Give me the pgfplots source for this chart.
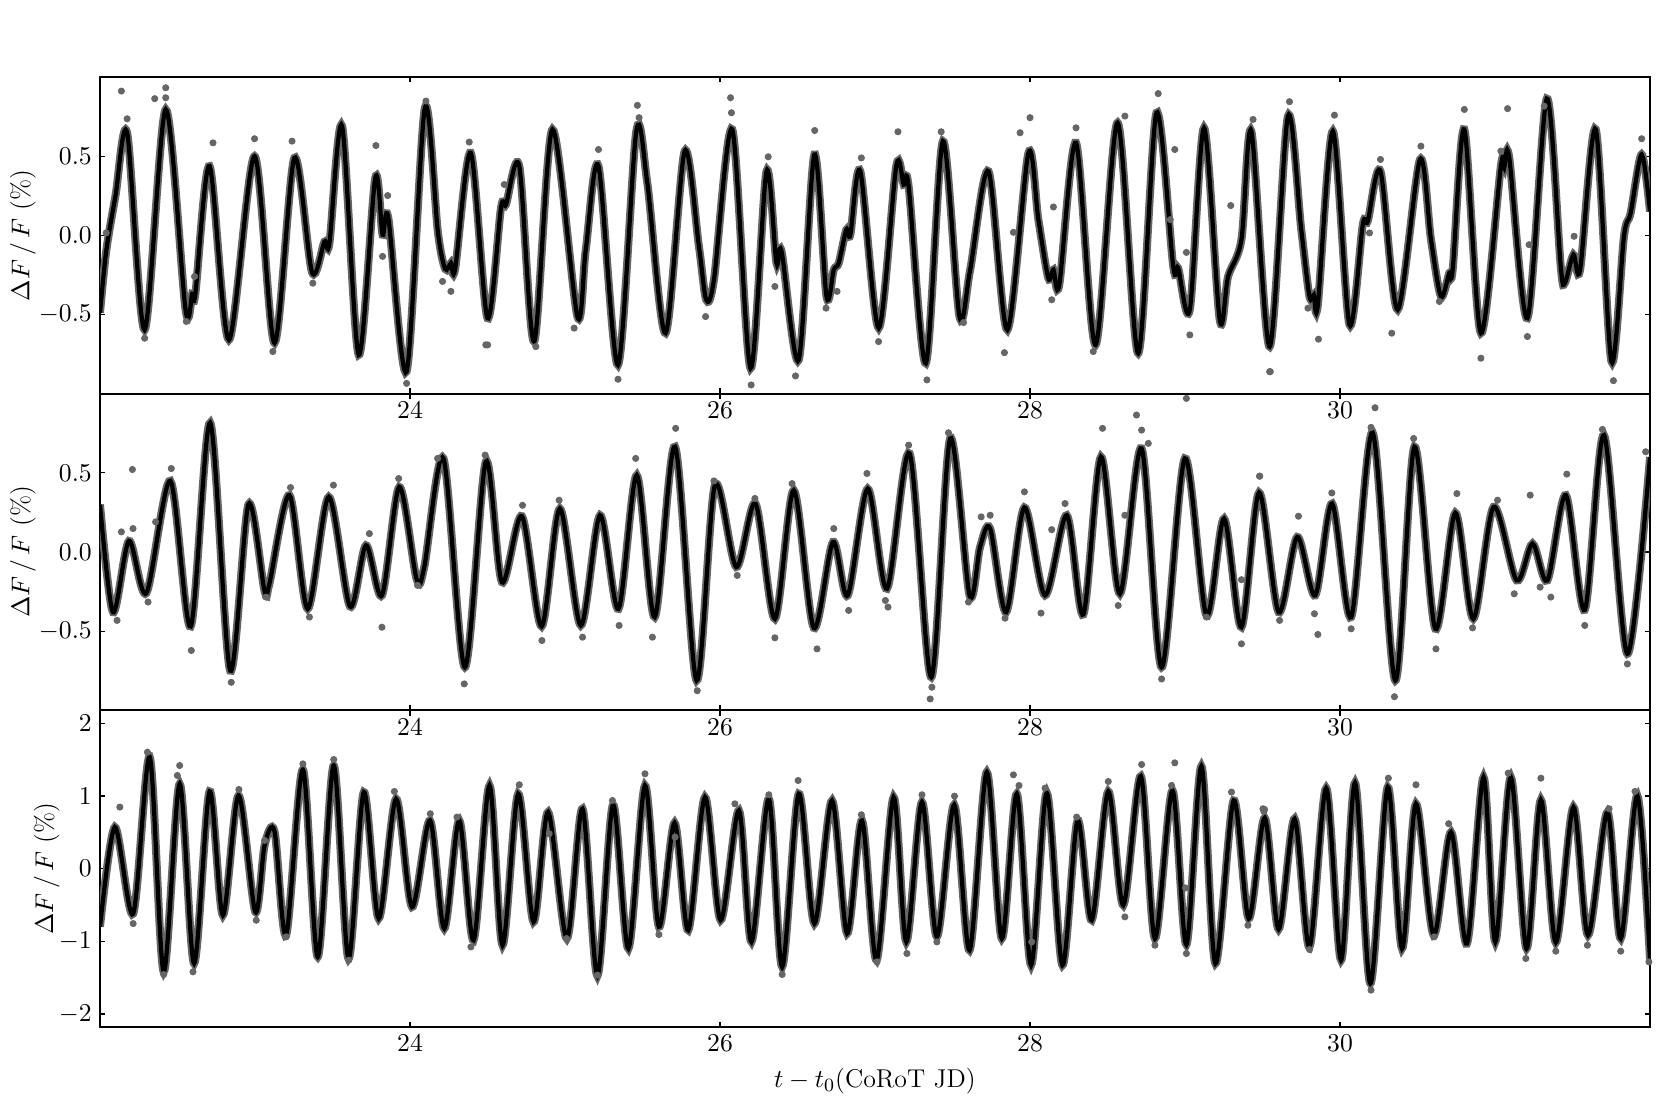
\documentclass[border=0pt]{standalone}
\usepackage{pgfplots}
\usepackage{pgfplotstable}
\pgfplotsset{compat=1.18}

% fitted curves (read at the extrema and shoulders)
\pgfplotstableread{
x y
22.00 -0.49
22.04 -0.10
22.10 0.25
22.175 0.648
22.288 -0.597
22.424 0.795
22.552 -0.47
22.595 -0.37
22.615 -0.37
22.707 0.437
22.832 -0.66
22.997 0.50
23.126 -0.68
23.254 0.489
23.368 -0.234
23.448 -0.04
23.480 -0.05
23.562 0.69
23.669 -0.755
23.776 0.363
23.823 0.004
23.860 0.11
23.978 -0.86
24.096 0.806
24.18 0.02
24.227 -0.213
24.264 -0.175
24.291 -0.213
24.392 0.521
24.500 -0.523
24.587 0.173
24.619 0.194
24.705 0.437
24.801 -0.671
24.919 0.669
25.080 -0.513
25.134 -0.09
25.216 0.437
25.342 -0.819
25.460 0.658
25.531 0.331
25.649 -0.618
25.772 0.532
25.864 -0.07
25.911 -0.407
25.961 -0.28
26.079 0.669
26.197 -0.84
26.300 0.405
26.364 -0.175
26.397 -0.10
26.508 -0.787
26.609 0.51
26.687 -0.386
26.734 -0.217
26.766 -0.175
26.815 0.036
26.841 0.004
26.905 0.405
27.024 -0.586
27.137 0.437
27.185 0.32
27.217 0.31
27.328 -0.808
27.438 0.595
27.545 -0.513
27.614 -0.217
27.732 0.405
27.854 -0.597
27.990 0.521
28.054 0.099
28.118 -0.27
28.151 -0.217
28.189 -0.312
28.297 0.584
28.423 -0.692
28.565 0.711
28.698 -0.745
28.816 0.774
28.924 -0.196
28.956 -0.207
29.031 -0.47
29.123 0.679
29.224 -0.534
29.278 -0.26
29.364 -0.027
29.428 0.658
29.546 -0.703
29.664 0.753
29.750 0.036
29.803 -0.386
29.831 -0.376
29.857 -0.439
29.954 0.658
30.061 -0.565
30.147 0.068
30.179 0.089
30.261 0.405
30.372 -0.47
30.516 0.479
30.587 -0.027
30.651 -0.386
30.705 -0.238
30.727 -0.217
30.802 0.669
30.909 -0.618
31.038 0.437
31.059 0.426
31.091 0.496
31.209 -0.523
31.334 0.863
31.424 -0.196
31.450 -0.302
31.506 -0.122
31.549 -0.217
31.650 0.669
31.751 -0.797
31.832 -0.006
31.875 0.141
31.946 0.511
32.00 0.15
}\fitA

\pgfplotstableread{
x y
22.00 0.30
22.084 -0.38
22.187 0.07
22.299 -0.26
22.454 0.449
22.585 -0.47
22.711 0.816
22.840 -0.749
22.958 0.302
23.061 -0.243
23.093 -0.20
23.222 0.359
23.340 -0.359
23.476 0.348
23.613 -0.344
23.716 0.042
23.819 -0.274
23.931 0.411
24.042 -0.169
24.092 -0.095
24.216 0.591
24.354 -0.728
24.489 0.57
24.593 -0.19
24.722 0.226
24.849 -0.47
24.967 0.274
25.102 -0.464
25.226 0.232
25.345 -0.359
25.463 0.485
25.579 -0.411
25.710 0.665
25.849 -0.812
25.967 0.422
26.105 -0.095
26.229 0.306
26.354 -0.422
26.476 0.39
26.605 -0.479
26.729 0.063
26.824 -0.274
26.953 0.40
27.077 -0.232
27.223 0.622
27.363 -0.791
27.485 0.717
27.610 -0.274
27.678 0.032
27.743 0.148
27.846 -0.38
27.964 0.281
28.097 -0.274
28.237 0.232
28.344 -0.394
28.458 0.601
28.580 -0.264
28.720 0.654
28.849 -0.728
28.999 0.591
29.138 -0.40
29.252 0.211
29.364 -0.475
29.478 0.375
29.604 -0.38
29.724 0.095
29.840 -0.274
29.949 0.306
30.072 -0.411
30.211 0.753
30.357 -0.812
30.480 0.665
30.615 -0.485
30.744 0.247
30.860 -0.422
30.991 0.285
31.139 -0.179
31.242 0.053
31.338 -0.179
31.457 0.359
31.579 -0.365
31.703 0.738
31.854 -0.643
32.00 0.60
}\fitB

\pgfplotstableread{
x y
22.00 -0.80
22.096 0.573
22.214 -0.62
22.321 1.535
22.411 -1.42
22.514 1.168
22.607 -1.306
22.707 1.063
22.793 -0.641
22.894 1.008
23.002 -0.596
23.062 0.321
23.126 0.513
23.201 -0.916
23.309 1.365
23.405 -1.214
23.508 1.42
23.603 -1.237
23.702 1.054
23.798 -0.687
23.910 0.962
24.013 -0.527
24.129 0.664
24.221 -0.825
24.318 0.664
24.410 -0.985
24.513 1.145
24.597 -1.054
24.698 1.031
24.797 -0.733
24.891 0.779
25.012 -0.962
25.113 0.825
25.209 -1.475
25.310 0.88
25.409 -1.10
25.516 1.145
25.606 -0.80
25.707 0.632
25.795 -0.848
25.903 0.985
26.004 -0.71
26.122 0.802
26.203 -1.008
26.315 0.962
26.401 -1.352
26.508 1.031
26.609 -0.756
26.723 0.939
26.820 -0.893
26.916 0.664
27.010 -1.26
27.120 0.985
27.202 -1.008
27.303 0.916
27.399 -0.939
27.511 0.88
27.610 -1.123
27.721 1.329
27.818 -0.962
27.915 1.031
28.007 -1.329
28.108 1.045
28.209 -1.329
28.307 0.664
28.398 -0.71
28.505 1.063
28.602 -0.504
28.715 1.274
28.806 -0.962
28.919 1.077
29.009 -1.045
29.106 1.411
29.196 -1.306
29.314 0.939
29.411 -0.687
29.514 0.70
29.604 -0.834
29.707 0.687
29.803 -1.077
29.911 1.109
30.007 -1.26
30.097 1.182
30.196 -1.581
30.308 1.123
30.400 -1.10
30.490 0.893
30.604 -0.916
30.716 0.504
30.819 -1.031
30.926 1.26
31.002 -1.008
31.102 1.26
31.203 -1.10
31.296 0.948
31.392 -1.017
31.506 0.848
31.600 -0.916
31.725 0.779
31.811 -0.962
31.918 1.008
32.00 -1.25
}\fitC

% scattered photometric points lying off the fit
\pgfplotstableread{
x y
22.138 0.911
22.175 0.736
22.353 0.863
22.424 0.932
22.424 0.869
22.729 0.584
22.997 0.61
23.239 0.595
23.780 0.567
23.856 0.251
23.823 -0.133
23.373 -0.302
24.103 0.848
24.382 0.589
24.489 -0.692
23.978 -0.935
22.557 -0.544
22.288 -0.65
24.264 -0.354
24.210 -0.291
22.610 -0.26
22.04 0.015
23.115 -0.734
25.467 0.821
25.478 0.743
25.216 0.542
26.068 0.869
26.074 0.774
26.611 0.662
26.311 0.496
26.912 0.489
25.342 -0.909
26.201 -0.945
26.487 -0.888
25.059 -0.586
25.907 -0.513
26.684 -0.46
26.354 -0.323
24.501 -0.692
24.812 -0.703
24.608 0.321
26.755 -0.354
27.148 0.654
27.427 0.654
28.000 0.743
27.936 0.648
28.297 0.679
28.612 0.753
28.827 0.895
28.934 0.542
29.439 0.732
28.905 0.099
28.151 0.179
27.893 0.019
29.295 0.188
27.335 -0.913
27.835 -0.741
27.571 -0.551
28.408 -0.734
29.031 -0.629
29.546 -0.861
29.009 -0.108
28.140 -0.407
27.023 -0.671
29.674 0.844
29.964 0.759
30.802 0.795
31.081 0.80
31.317 0.816
31.946 0.61
30.522 0.563
30.261 0.479
31.038 0.532
29.550 -0.861
29.861 -0.656
30.334 -0.618
30.909 -0.776
31.209 -0.639
31.764 -0.918
30.641 -0.418
29.793 -0.46
31.510 -0.006
31.220 -0.059
30.190 0.015
}\ptsA

\pgfplotstableread{
x y
22.209 0.521
22.213 0.148
22.138 0.127
22.359 0.19
22.460 0.527
22.589 -0.622
22.110 -0.432
22.847 -0.823
23.229 0.407
23.506 0.422
23.738 0.116
23.819 -0.475
23.927 0.464
24.178 0.591
24.485 0.612
24.350 -0.833
23.351 -0.411
23.072 -0.285
22.310 -0.316
24.049 -0.211
25.714 0.781
25.456 0.591
25.961 0.449
26.948 0.496
26.465 0.432
26.225 0.338
24.962 0.327
24.726 0.295
25.853 -0.876
24.851 -0.559
25.113 -0.538
25.564 -0.538
25.349 -0.464
26.354 -0.542
26.626 -0.612
26.830 -0.369
26.734 0.148
26.111 -0.148
27.067 -0.306
29.009 0.97
28.687 0.865
28.720 0.77
28.763 0.686
28.468 0.781
29.482 0.479
27.217 0.675
27.474 0.753
27.964 0.38
28.226 0.306
28.612 0.232
28.140 0.141
27.743 0.232
27.685 0.222
27.356 -0.928
27.367 -0.854
28.849 -0.802
29.364 -0.58
28.071 -0.386
27.839 -0.418
27.084 -0.348
28.569 -0.338
29.364 -0.175
27.603 -0.316
29.138 -0.411
30.226 0.911
30.200 0.787
30.475 0.717
31.693 0.774
31.972 0.633
29.481 0.479
29.947 0.373
31.227 0.359
31.463 0.492
30.754 0.369
31.016 0.327
29.732 0.226
30.351 -0.914
30.619 -0.612
29.857 -0.521
29.610 -0.432
30.072 -0.485
30.855 -0.479
31.579 -0.464
31.854 -0.707
31.360 -0.285
31.291 -0.222
31.124 -0.264
29.835 -0.39
}\ptsB

\pgfplotstableread{
x y
22.128 0.848
22.306 1.604
22.514 1.42
22.499 1.283
22.600 -1.42
22.214 -0.756
22.411 -1.457
22.896 1.09
23.309 1.443
23.508 1.503
23.899 1.063
24.131 0.756
24.303 0.71
24.393 -1.077
23.008 -0.71
23.062 0.389
23.201 -0.939
23.605 -1.26
25.516 1.306
24.705 1.155
24.898 0.481
25.306 0.939
25.606 -0.907
25.010 -0.962
26.096 0.893
26.315 1.017
26.504 1.214
26.912 0.742
26.401 -1.457
25.209 -1.466
25.710 0.435
27.013 -1.283
27.893 1.292
27.929 1.145
28.097 1.109
28.720 1.434
28.934 1.457
28.505 1.20
28.913 1.145
29.300 1.054
29.503 0.825
28.301 0.71
27.303 1.017
27.513 0.999
27.206 -1.168
28.612 -0.664
29.009 -1.168
28.806 -1.054
29.003 -0.266
28.011 -1.008
29.406 -0.779
27.399 -1.008
29.513 0.816
30.312 1.246
30.490 1.155
30.701 0.619
31.085 1.315
31.296 1.246
31.903 1.063
31.736 0.825
30.200 -1.672
31.199 -1.237
31.392 -1.136
31.596 -1.054
31.811 -1.136
29.803 -1.113
30.608 -0.939
31.993 -1.283
29.509 0.788
}\ptsC

\pgfplotsset{
  lc/.style={
    scale only axis, width=23.25cm, height=4.75cm,
    xmin=22, xmax=32,
    xtick={24,26,28,30},
    tick align=inside,
    major tick length=0.08cm,
    axis line style={line width=0.8pt},
    every tick/.style={black, line width=0.5pt},
    ylabel={$\Delta F\,/\,F$ (\%)},
    tick label style={font=\fontsize{11}{13}\selectfont},
    label style={font=\fontsize{11}{13}\selectfont},
  },
  halo/.style={black!60, line width=3.4pt, smooth, no markers},
  fit/.style={black, line width=1.8pt, smooth, no markers},
  dots/.style={only marks, mark=*, mark size=1.3pt, black!60,
    mark options={draw=black!60, fill=black!60}},
}

\begin{document}
\begin{tikzpicture}
\begin{axis}[lc, name=ax1, ymin=-1, ymax=1,
  ytick={-0.5,0,0.5}, yticklabels={$-0.5$,$0.0$,$0.5$},
  ylabel style={at={(rel axis cs:-0.0497,0.5)}, anchor=center}]
\coordinate (tl) at (rel axis cs:0,1);
\addplot[halo] table {\fitA};
\addplot[dots] table {\ptsA};
\addplot[fit] table {\fitA};
\end{axis}

\begin{axis}[lc, name=ax2, at={(ax1.south west)}, anchor=north west,
  ymin=-1, ymax=1,
  ytick={-0.5,0,0.5}, yticklabels={$-0.5$,$0.0$,$0.5$},
  ylabel style={at={(rel axis cs:-0.0497,0.5)}, anchor=center}]
\addplot[halo] table {\fitB};
\addplot[dots] table {\ptsB};
\addplot[fit] table {\fitB};
\end{axis}

\begin{axis}[lc, name=ax3, at={(ax2.south west)}, anchor=north west,
  ymin=-2.18, ymax=2.18, ytick={-2,-1,0,1,2},
  ylabel style={at={(rel axis cs:-0.0344,0.5)}, anchor=center},
  xlabel={$t-t_0$(CoRoT JD)}]
\addplot[halo] table {\fitC};
\addplot[dots] table {\ptsC};
\addplot[fit] table {\fitC};
\end{axis}

\pgfresetboundingbox
\useasboundingbox (tl) ++(-1.5cm,1.155cm) rectangle ++(24.915cm,-16.605cm);
\end{tikzpicture}
\end{document}
